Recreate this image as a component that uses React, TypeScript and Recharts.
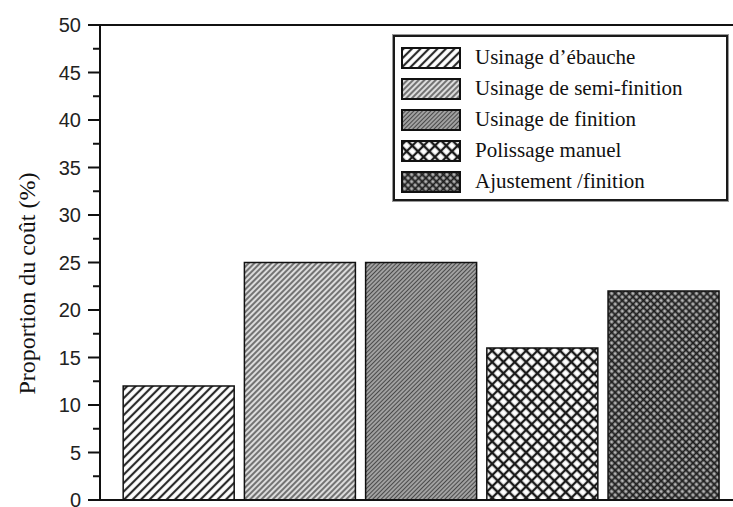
import React from 'react';
import { BarChart, Bar, XAxis, YAxis, Cell, Legend, ReferenceLine } from 'recharts';

const categories = [
  'Usinage d’ébauche',
  'Usinage de semi-finition',
  'Usinage de finition',
  'Polissage manuel',
  'Ajustement /finition',
];
const costShare = [12, 25, 25, 16, 22];
const barPositions = [1, 2, 3, 4, 5];
const patternIds = ['hatchA', 'hatchB', 'hatchC', 'crossA', 'crossB'];
const yTicks = [0, 2.5, 5, 7.5, 10, 12.5, 15, 17.5, 20, 22.5, 25, 27.5, 30, 32.5, 35, 37.5, 40, 42.5, 45, 47.5, 50];
const xTicks = [0.54, 1.04, 1.53, 2.02, 2.52, 3.01, 3.5, 3.99, 4.49, 4.98, 5.47];
const yLabel = 'Proportion du coût (%)';

const data = categories.map((name, i) => ({ name, pos: barPositions[i], value: costShare[i] }));

const serif = '"Liberation Serif", "Times New Roman", serif';
const sans = '"Liberation Sans", Arial, sans-serif';

const Patterns = () => (
  <svg width={0} height={0} style={{ position: 'absolute' }}>
    <defs>
      <pattern id="hatchA" width={6} height={6} patternUnits="userSpaceOnUse" patternTransform="rotate(45)">
        <rect width={6} height={6} fill="#ffffff" />
        <line x1={3} y1={0} x2={3} y2={6} stroke="#2a2a2a" strokeWidth={2.2} />
      </pattern>
      <pattern id="hatchB" width={4} height={4} patternUnits="userSpaceOnUse" patternTransform="rotate(45)">
        <rect width={4} height={4} fill="#dcdcdc" />
        <line x1={2} y1={0} x2={2} y2={4} stroke="#505050" strokeWidth={1.5} />
      </pattern>
      <pattern id="hatchC" width={3} height={3} patternUnits="userSpaceOnUse" patternTransform="rotate(45)">
        <rect width={3} height={3} fill="#ababab" />
        <line x1={1.5} y1={0} x2={1.5} y2={3} stroke="#4a4a4a" strokeWidth={1.2} />
      </pattern>
      <pattern id="crossA" width={8} height={8} patternUnits="userSpaceOnUse" patternTransform="rotate(45)">
        <rect width={8} height={8} fill="#ffffff" />
        <path d="M4 0 V8 M0 4 H8" stroke="#1a1a1a" strokeWidth={2.3} />
      </pattern>
      <pattern id="crossB" width={5} height={5} patternUnits="userSpaceOnUse" patternTransform="rotate(45)">
        <rect width={5} height={5} fill="#b4b4b4" />
        <path d="M2.5 0 V5 M0 2.5 H5" stroke="#1e1e1e" strokeWidth={1.8} />
      </pattern>
    </defs>
  </svg>
);

const YTick = (props: any) => {
  const { x, y, payload } = props;
  const v = payload.value as number;
  const major = v % 5 === 0;
  return (
    <g>
      <line x1={x - (major ? 12 : 7)} y1={y} x2={x} y2={y} stroke="#111" strokeWidth={2} />
      {major && (
        <text x={x - 19} y={y} textAnchor="end" dominantBaseline="central" fontFamily={sans} fontSize={20} fill="#222">
          {v}
        </text>
      )}
    </g>
  );
};

const YLabel = (props: any) => {
  const vb = props.viewBox || { x: 0, y: 25, width: 100, height: 475 };
  const cx = vb.x + 27;
  const cy = vb.y + vb.height / 2 + 21;
  return (
    <text x={cx} y={cy} transform={`rotate(-90 ${cx} ${cy})`} textAnchor="middle" dominantBaseline="central" fontFamily={serif} fontSize={24} fill="#111">
      {yLabel}
    </text>
  );
};

const LegendBox = () => (
  <div
    style={{
      border: '2px solid #1a1a1a',
      boxShadow: '0 0 0 1px #999',
      background: '#fff',
      width: 335,
      height: 166,
      boxSizing: 'border-box',
      paddingTop: 5,
      fontFamily: serif,
      fontSize: 21,
      color: '#111',
    }}
  >
    {categories.map((c, i) => (
      <div key={c} style={{ display: 'flex', alignItems: 'center', height: 31 }}>
        <svg width={60} height={22} style={{ marginLeft: 6, display: 'block' }}>
          <rect x={1} y={1} width={58} height={20} fill={`url(#${patternIds[i]})`} stroke="#111" strokeWidth={2} />
        </svg>
        <span style={{ marginLeft: 14, lineHeight: '31px', whiteSpace: 'nowrap' }}>{c}</span>
      </div>
    ))}
  </div>
);

export default function App() {
  return (
    <div style={{ position: 'absolute', left: 0, top: 0, width: 733, height: 507, overflow: 'hidden', background: '#fff' }}>
      <Patterns />
      <BarChart width={797} height={507} data={data} margin={{ top: 25, right: 0, bottom: 0, left: 0 }}>
        <XAxis
          dataKey="pos"
          type="number"
          domain={[0.35, 6.1]}
          ticks={xTicks}
          tick={false}
          height={7}
          tickSize={8}
          axisLine={{ stroke: '#111', strokeWidth: 2 }}
          tickLine={{ stroke: '#111', strokeWidth: 1.5 }}
          allowDataOverflow
        />
        <YAxis
          type="number"
          domain={[0, 50]}
          ticks={yTicks}
          interval={0}
          width={100}
          tickSize={0}
          tickMargin={0}
          tickLine={false}
          axisLine={{ stroke: '#111', strokeWidth: 2 }}
          tick={<YTick />}
          label={{ content: <YLabel /> }}
        />
        <ReferenceLine y={50} stroke="#111" strokeWidth={2} />
        <Bar dataKey="value" barSize={111} stroke="#111" strokeWidth={1.5} isAnimationActive={false}>
          {data.map((d, i) => (
            <Cell key={d.name} fill={`url(#${patternIds[i]})`} />
          ))}
        </Bar>
        <Legend
          layout="vertical"
          align="center"
          verticalAlign="middle"
          content={<LegendBox />}
          wrapperStyle={{ position: 'absolute', left: 393, top: 35, width: 335, height: 166, margin: 0, padding: 0 }}
        />
      </BarChart>
    </div>
  );
}
